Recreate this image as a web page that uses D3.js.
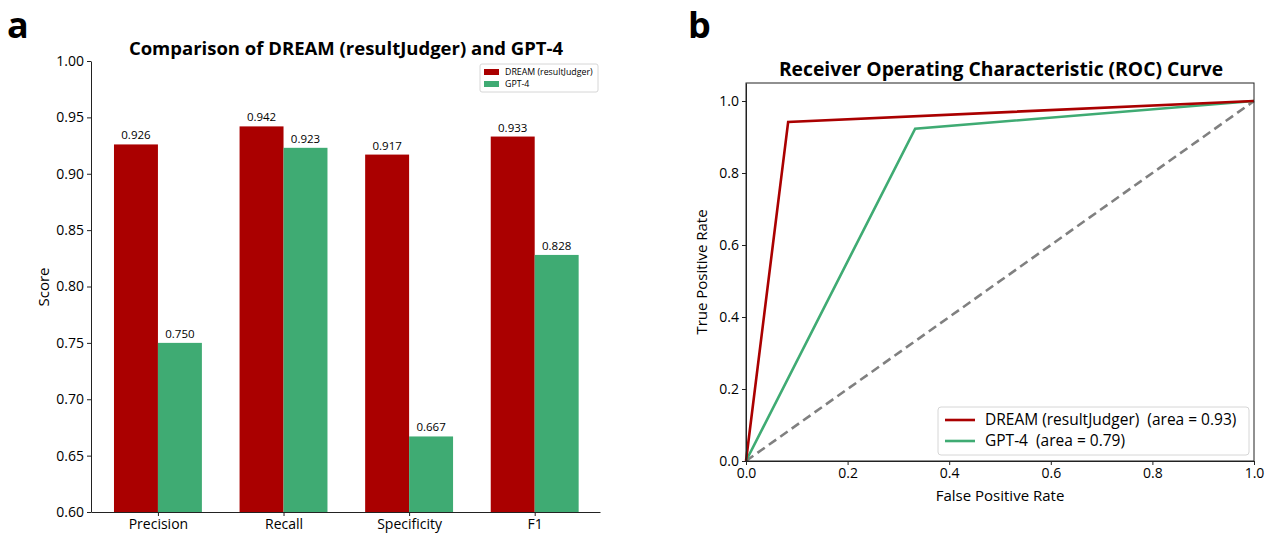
<!DOCTYPE html>
<html>
<head>
<meta charset="utf-8">
<script src="https://cdn.jsdelivr.net/npm/d3@7"></script>
<style>
  body{margin:0;background:#fff;}
  svg{display:block;font-family:"Open Sans",sans-serif;}
  text{white-space:pre;}
  .tick text{font-size:14px;fill:#000;font-family:"Open Sans",sans-serif;}
  .domain,.tick line{stroke:#222;}
</style>
</head>
<body>
<svg id="fig" width="1272" height="534"></svg>
<script>
// data
const metrics = ["Precision", "Recall", "Specificity", "F1"];
const dreamScores = [0.926, 0.942, 0.917, 0.933];
const gptScores = [0.750, 0.923, 0.667, 0.828];
const scoreTicks = [0.60, 0.65, 0.70, 0.75, 0.80, 0.85, 0.90, 0.95, 1.00];

const dreamFpr = [0, 0.083, 1];
const dreamTpr = [0, 0.942, 1];
const gptFpr = [0, 0.333, 1];
const gptTpr = [0, 0.923, 1];
const chanceLine = [0, 1];
const rocTicks = [0, 0.2, 0.4, 0.6, 0.8, 1.0];

const RED = "#aa0000";
const GREEN = "#3fab73";

const svg = d3.select("#fig");

// panel letters
svg.append("text").attr("x",7).attr("y",38).text("a")
   .style("font-weight","bold").style("font-size","36px");
svg.append("text").attr("x",688).attr("y",38).text("b")
   .style("font-weight","bold").style("font-size","36px");

// ---------- a : bar chart ----------
const barW = 0.35;
const xA = d3.scaleLinear().domain([-0.533, 3.52]).range([91, 600]);
const yA = d3.scaleLinear().domain([0.6, 1.0]).range([512, 61]);
const pxW = xA(barW) - xA(0);

const gA = svg.append("g");

gA.selectAll("rect.dream").data(dreamScores).join("rect")
  .attr("class","dream")
  .attr("x",(d,i)=>xA(i - barW))
  .attr("y",d=>yA(d))
  .attr("width",pxW)
  .attr("height",d=>yA(0.6)-yA(d))
  .attr("fill",RED);

gA.selectAll("rect.gpt").data(gptScores).join("rect")
  .attr("class","gpt")
  .attr("x",(d,i)=>xA(i))
  .attr("y",d=>yA(d))
  .attr("width",pxW)
  .attr("height",d=>yA(0.6)-yA(d))
  .attr("fill",GREEN);

// value labels
gA.selectAll("text.vd").data(dreamScores).join("text")
  .attr("x",(d,i)=>xA(i - barW/2)).attr("y",d=>yA(d)-5)
  .attr("text-anchor","middle").style("font-size","11.5px").text(d=>d3.format(".3f")(d));
gA.selectAll("text.vg").data(gptScores).join("text")
  .attr("x",(d,i)=>xA(i + barW/2)).attr("y",d=>yA(d)-5)
  .attr("text-anchor","middle").style("font-size","11.5px").text(d=>d3.format(".3f")(d));

// axes
gA.append("g").attr("transform","translate(0,"+yA(0.6)+")")
  .call(d3.axisBottom(xA).tickValues(d3.range(metrics.length))
        .tickFormat(i=>metrics[i]).tickSize(4).tickSizeOuter(0));
gA.append("g").attr("transform","translate("+xA.range()[0]+",0)")
  .call(d3.axisLeft(yA).tickValues(scoreTicks).tickFormat(d3.format(".2f")).tickSize(4).tickSizeOuter(0));

gA.append("text").attr("x",346).attr("y",55).attr("text-anchor","middle")
  .style("font-weight","bold").style("font-size","18.5px")
  .text("Comparison of DREAM (resultJudger) and GPT-4");
gA.append("text").attr("transform","translate(49,287) rotate(-90)").attr("text-anchor","middle")
  .style("font-size","15px").text("Score");

// legend a
const legA = gA.append("g").attr("transform","translate(480,64)");
legA.append("rect").attr("width",118).attr("height",28).attr("rx",2)
  .attr("fill","#fff").attr("stroke","#d6d6d6");
[["DREAM (resultJudger)",RED],["GPT-4",GREEN]].forEach((e,i)=>{
  legA.append("rect").attr("x",4).attr("y",5+i*12).attr("width",15).attr("height",6).attr("fill",e[1]);
  legA.append("text").attr("x",25).attr("y",11+i*12).style("font-size","8.8px").text(e[0]);
});

// ---------- b : ROC ----------
const xB = d3.scaleLinear().domain([0,1]).range([746,1254]);
const yB = d3.scaleLinear().domain([0,1.05]).range([461,83]);
const gB = svg.append("g");

const line = d3.line().x(d=>xB(d[0])).y(d=>yB(d[1]));

gB.append("path").datum(chanceLine.map(v=>[v,v])).attr("d",line)
  .attr("fill","none").attr("stroke","#808080").attr("stroke-width",2.6).attr("stroke-dasharray","9,5");
gB.append("path").datum(gptFpr.map((v,i)=>[v,gptTpr[i]])).attr("d",line)
  .attr("fill","none").attr("stroke",GREEN).attr("stroke-width",2.6);
gB.append("path").datum(dreamFpr.map((v,i)=>[v,dreamTpr[i]])).attr("d",line)
  .attr("fill","none").attr("stroke",RED).attr("stroke-width",2.6);

gB.append("g").attr("transform","translate(0,"+yB(0)+")")
  .call(d3.axisBottom(xB).tickValues(rocTicks).tickFormat(d3.format(".1f")).tickSize(4).tickSizeOuter(0));
gB.append("g").attr("transform","translate("+xB(0)+",0)")
  .call(d3.axisLeft(yB).tickValues(rocTicks).tickFormat(d3.format(".1f")).tickSize(4).tickSizeOuter(0));
gB.append("rect").attr("x",xB(0)).attr("y",yB(1.05)).attr("width",xB(1)-xB(0)).attr("height",yB(0)-yB(1.05))
  .attr("fill","none").attr("stroke","#222");

gB.append("text").attr("x",1001).attr("y",76).attr("text-anchor","middle")
  .style("font-weight","bold").style("font-size","19.3px")
  .text("Receiver Operating Characteristic (ROC) Curve");
gB.append("text").attr("x",1000).attr("y",501).attr("text-anchor","middle")
  .style("font-size","15px").text("False Positive Rate");
gB.append("text").attr("transform","translate(707,272) rotate(-90)").attr("text-anchor","middle")
  .style("font-size","15px").text("True Positive Rate");

const legB = gB.append("g").attr("transform","translate(938,407)");
legB.append("rect").attr("width",311).attr("height",48).attr("rx",3)
  .attr("fill","#fff").attr("fill-opacity",0.85).attr("stroke","#d6d6d6");
[["DREAM (resultJudger)  (area = 0.93)",RED],["GPT-4  (area = 0.79)",GREEN]].forEach((e,i)=>{
  legB.append("line").attr("x1",7).attr("x2",37).attr("y1",13+i*21).attr("y2",13+i*21)
    .attr("stroke",e[1]).attr("stroke-width",2.6);
  legB.append("text").attr("x",47).attr("y",18+i*21).style("font-size","15.5px").text(e[0]);
});
</script>
</body>
</html>
